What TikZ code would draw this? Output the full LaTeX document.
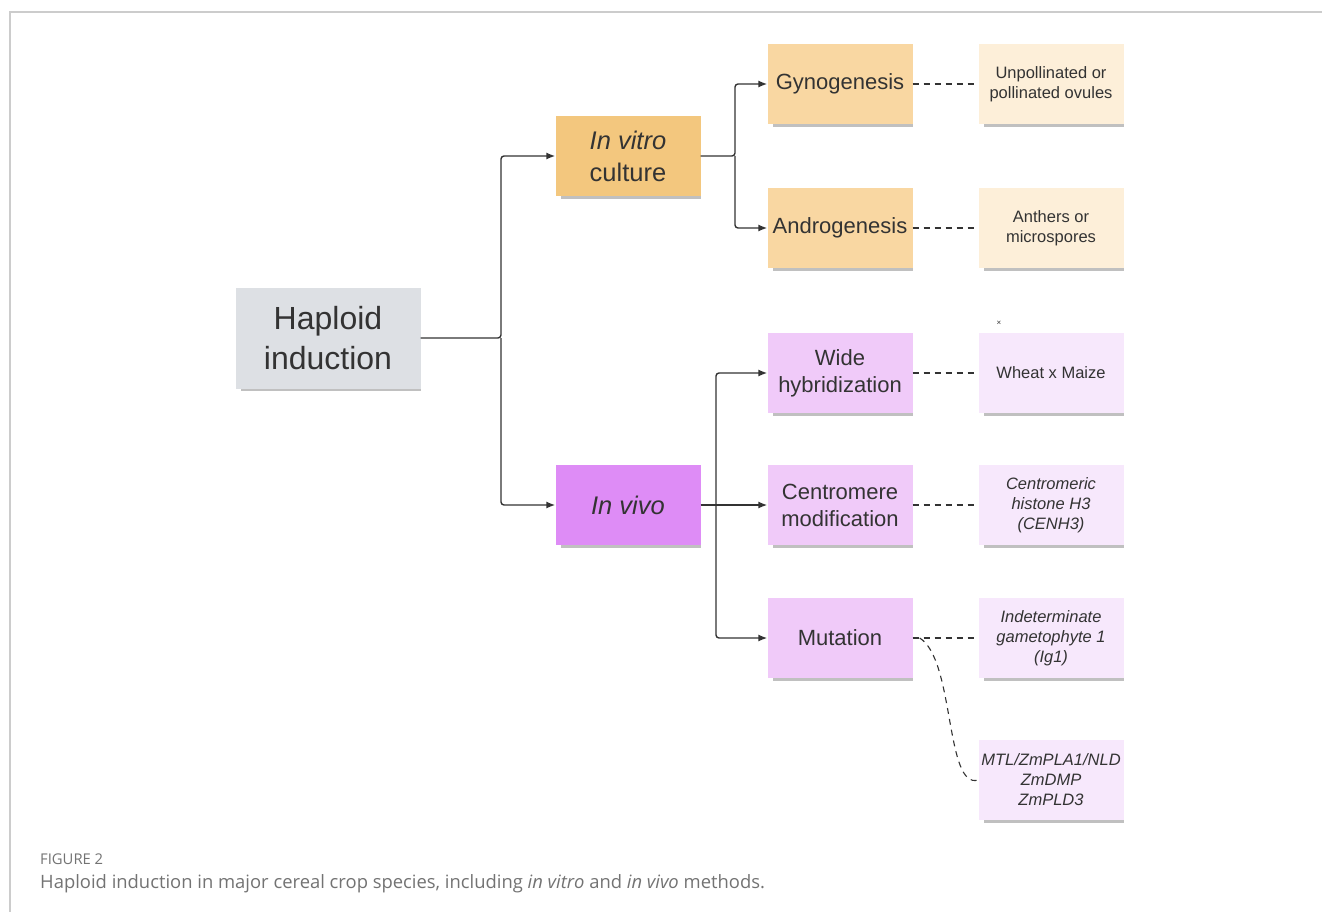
\documentclass[tikz,border=0pt]{standalone}
\usepackage{fontspec}
\setmainfont{Liberation Sans}
\newfontfamily\capfont{Open Sans}
\usetikzlibrary{shadows,arrows.meta}

\definecolor{ink}{HTML}{333333}
\definecolor{hapcol}{HTML}{DDE0E4}
\definecolor{vitrocol}{HTML}{F3C77E}
\definecolor{vivocol}{HTML}{DE8CF6}
\definecolor{orsub}{HTML}{F9D7A2}
\definecolor{pusub}{HTML}{F0CAF9}
\definecolor{orleaf}{HTML}{FDEFD9}
\definecolor{puleaf}{HTML}{F7E8FC}
\definecolor{framecol}{HTML}{CCCCCC}
\definecolor{capcol}{HTML}{737373}

\begin{document}
\begin{tikzpicture}[x=1pt,y=-1pt,
    card/.style={align=center,inner sep=2pt,text=ink,
      drop shadow={shadow xshift=3pt,shadow yshift=-4pt,shadow scale=0.97,opacity=.35,fill=black!70}},
    hap/.style={card,fill=hapcol,minimum width=185pt,minimum height=101pt,font=\fontsize{32}{40}\selectfont},
    mid/.style={card,minimum width=145pt,minimum height=80pt,font=\fontsize{25.5}{32}\selectfont},
    sub/.style={card,minimum width=145pt,minimum height=80pt,font=\fontsize{22}{27}\selectfont},
    leaf/.style={card,minimum width=145pt,minimum height=80pt,font=\fontsize{16.5}{20}\selectfont},
    conn/.style={draw=ink,line width=1.4pt,rounded corners=3pt,-{Latex[length=9pt,width=7pt]}},
    dsh/.style={draw=ink,line width=1.1pt,dash pattern=on 6pt off 5pt}]
    \useasboundingbox (0,0) rectangle (1322,912);
    \fill[white] (0,0) rectangle (1322,912);
    \draw[framecol,line width=1.2pt] (10,912) -- (10,12) -- (1322,12);

    % boxes
    \node[hap] (hap) at (328,338) {Haploid\\induction};
    \node[mid,fill=vitrocol] (vitro) at (628,156) {\textit{In vitro}\\culture};
    \node[mid,fill=vivocol] (vivo) at (628,505) {\textit{In vivo}};

    \node[sub,fill=orsub] (gyno) at (840,84) {Gynogenesis};
    \node[sub,fill=orsub] (andro) at (840,228) {Androgenesis};
    \node[sub,fill=pusub] (wide) at (840,373) {Wide\\hybridization};
    \node[sub,fill=pusub] (centro) at (840,505) {Centromere\\modification};
    \node[sub,fill=pusub] (mut) at (840,638) {Mutation};

    \node[leaf,fill=orleaf] (ovule) at (1051,84) {Unpollinated or\\pollinated ovules};
    \node[leaf,fill=orleaf] (anther) at (1051,228) {Anthers or\\microspores};
    \node[leaf,fill=puleaf] (wheat) at (1051,373) {Wheat x Maize};
    \node[leaf,fill=puleaf] (cenh) at (1051,505) {\textit{Centromeric}\\\textit{histone H3}\\\textit{(CENH3)}};
    \node[leaf,fill=puleaf] (ig) at (1051,638) {\textit{Indeterminate}\\\textit{gametophyte 1}\\\textit{(Ig1)}};
    \node[leaf,fill=puleaf] (mtl) at (1051,780) {\textit{MTL/ZmPLA1/NLD}\\\textit{ZmDMP}\\\textit{ZmPLD3}};
    \node[text=ink,font=\fontsize{8}{8}\selectfont,inner sep=0pt] (mark) at (999,323) {×};

    % solid connectors
    \coordinate (j1) at (501,338);
    \coordinate (j2) at (735,156);
    \coordinate (j3) at (716,505);
    \draw[conn] (hap.east) -- (j1) |- (vitro.west);
    \draw[conn] (j1) |- (vivo.west);
    \draw[conn] (vitro.east) -- (j2) |- (gyno.west);
    \draw[conn] (j2) |- (andro.west);
    \draw[conn] (vivo.east) -- (centro.west);
    \draw[conn] (j3) |- (wide.west);
    \draw[conn] (j3) |- (mut.west);

    % dashed links
    \draw[dsh] (gyno.east) -- (ovule.west);
    \draw[dsh] (andro.east) -- (anther.west);
    \draw[dsh] (wide.east) -- (wheat.west);
    \draw[dsh] (centro.east) -- (cenh.west);
    \draw[dsh] (mut.east) -- (ig.west);
    \draw[dsh] ([xshift=7pt]mut.east) .. controls (955,660) and (945,790) .. (mtl.west);

    % caption
    \node[anchor=base west,inner sep=0pt,text=capcol,font=\capfont\fontsize{14.8}{17}\selectfont] (fig) at (40,864) {FIGURE 2};
    \node[anchor=base west,inner sep=0pt,text=capcol,font=\capfont\fontsize{18.4}{22}\selectfont] (cap) at (40,888) {Haploid induction in major cereal crop species, including \textit{in vitro} and \textit{in vivo} methods.};
\end{tikzpicture}
\end{document}
